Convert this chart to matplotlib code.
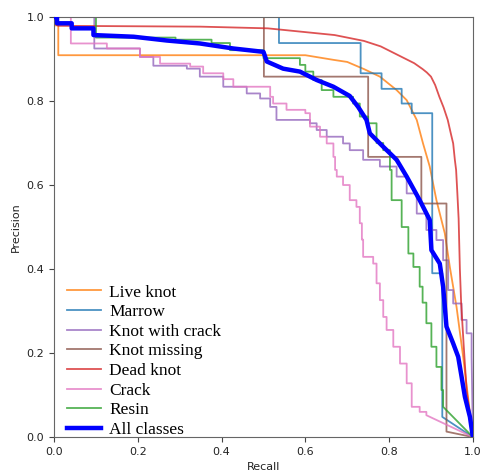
import numpy as np
import matplotlib
matplotlib.use("Agg")
import matplotlib.pyplot as plt

# ---------------- data (recall, precision) ----------------
labels = ["Live knot", "Marrow", "Knot with crack", "Knot missing",
          "Dead knot", "Crack", "Resin", "All classes"]
colors = ["#ff7f0e", "#1f77b4", "#9467bd", "#8c564b",
          "#d62728", "#e377c2", "#2ca02c", "#0000ff"]

# smooth curves (plain polyline)
live_r = [0, 0.01, 0.01, 0.60, 0.667, 0.70, 0.74, 0.778, 0.818, 0.842, 0.866,
          0.881, 0.897, 0.913, 0.933, 0.945, 0.961, 0.977, 1.0]
live_p = [0.98, 0.98, 0.909, 0.909, 0.898, 0.893, 0.876, 0.858, 0.826, 0.802,
          0.755, 0.699, 0.644, 0.564, 0.485, 0.405, 0.31, 0.19, 0.0]

dead_r = [0, 0.01, 0.35, 0.51, 0.59, 0.67, 0.74, 0.78, 0.82, 0.86, 0.88, 0.89,
          0.90, 0.91, 0.92, 0.93, 0.94, 0.948, 0.953, 0.957, 0.96, 0.963, 0.966,
          0.969, 0.972, 0.978, 0.985, 1.0]
dead_p = [0.985, 0.979, 0.977, 0.973, 0.965, 0.957, 0.943, 0.93, 0.910, 0.890,
          0.876, 0.868, 0.858, 0.838, 0.810, 0.785, 0.755, 0.72, 0.699, 0.66,
          0.636, 0.58, 0.52, 0.40, 0.32, 0.22, 0.112, 0.0]

all_r = [0, 0.007, 0.007, 0.042, 0.042, 0.094, 0.094, 0.19, 0.269, 0.348, 0.428,
         0.50, 0.508, 0.547, 0.587, 0.627, 0.667, 0.706, 0.726, 0.746, 0.754,
         0.786, 0.818, 0.842, 0.873, 0.897, 0.901, 0.921, 0.929, 0.937, 0.953,
         0.965, 0.973, 0.981, 0.993, 1.0]
all_p = [1.0, 1.0, 0.985, 0.985, 0.973, 0.973, 0.957, 0.953, 0.944, 0.937, 0.925,
         0.917, 0.894, 0.877, 0.870, 0.85, 0.834, 0.812, 0.786, 0.755, 0.723,
         0.691, 0.660, 0.620, 0.564, 0.517, 0.445, 0.413, 0.358, 0.263, 0.223,
         0.191, 0.144, 0.096, 0.048, 0.0]

# stepped curves: (recall where precision drops, new precision); last segment straight
marrow_r = [0, 0.537, 0.732, 0.782, 0.830, 0.854, 0.903, 0.927, 1.0]
marrow_p = [1.0, 0.938, 0.866, 0.829, 0.794, 0.771, 0.390, 0.048, 0.0]

missing_r = [0, 0.501, 0.750, 0.877, 0.937, 1.0]
missing_p = [1.0, 0.858, 0.667, 0.556, 0.013, 0.0]

kwc_r = [0, 0.096, 0.205, 0.237, 0.317, 0.348, 0.404, 0.46, 0.492, 0.516, 0.531,
         0.611, 0.627, 0.651, 0.690, 0.706, 0.738, 0.778, 0.818, 0.842, 0.866,
         0.889, 0.913, 0.929, 0.941, 0.953, 0.973, 0.985, 0.997, 1.0]
kwc_p = [1.0, 0.925, 0.905, 0.884, 0.877, 0.858, 0.834, 0.818, 0.806, 0.786,
         0.755, 0.747, 0.731, 0.715, 0.699, 0.683, 0.66, 0.644, 0.620, 0.580,
         0.532, 0.493, 0.469, 0.421, 0.350, 0.318, 0.279, 0.247, 0.191, 0.0]

crack_r = [0, 0.04, 0.126, 0.205, 0.253, 0.325, 0.356, 0.404, 0.428, 0.516,
           0.523, 0.555, 0.60, 0.611, 0.635, 0.651, 0.667, 0.671, 0.675, 0.69,
           0.706, 0.722, 0.730, 0.735, 0.738, 0.762, 0.770, 0.778, 0.786, 0.794,
           0.810, 0.826, 0.842, 0.854, 0.873, 0.889, 1.0]
crack_p = [1.0, 0.937, 0.925, 0.905, 0.889, 0.882, 0.866, 0.852, 0.834, 0.81,
           0.794, 0.779, 0.771, 0.739, 0.715, 0.699, 0.667, 0.636, 0.62, 0.60,
           0.564, 0.548, 0.509, 0.47, 0.429, 0.413, 0.366, 0.326, 0.286, 0.255,
           0.215, 0.175, 0.128, 0.072, 0.06, 0.052, 0.0]

resin_r = [0, 0.10, 0.29, 0.376, 0.42, 0.50, 0.587, 0.60, 0.619, 0.639, 0.667,
           0.714, 0.730, 0.750, 0.77, 0.786, 0.802, 0.806, 0.830, 0.846, 0.858,
           0.873, 0.880, 0.889, 0.901, 0.913, 0.925, 0.929, 1.0]
resin_p = [1.0, 0.951, 0.946, 0.938, 0.921, 0.902, 0.886, 0.87, 0.850, 0.826,
           0.81, 0.794, 0.763, 0.747, 0.70, 0.683, 0.636, 0.564, 0.50, 0.437,
           0.405, 0.358, 0.32, 0.271, 0.215, 0.167, 0.112, 0.072, 0.0]


def stair(r, p):
    r = np.asarray(r, float)
    p = np.asarray(p, float)
    xs, ys = [r[0]], [p[0]]
    for i in range(1, len(r) - 1):
        xs += [r[i], r[i]]
        ys += [p[i - 1], p[i]]
    xs.append(r[-1])
    ys.append(p[-1])
    return np.array(xs), np.array(ys)


curves = [
    (np.array(live_r), np.array(live_p)),
    stair(marrow_r, marrow_p),
    stair(kwc_r, kwc_p),
    stair(missing_r, missing_p),
    (np.array(dead_r), np.array(dead_p)),
    stair(crack_r, crack_p),
    stair(resin_r, resin_p),
    (np.array(all_r), np.array(all_p)),
]

fig = plt.figure(figsize=(4.83, 4.72), dpi=100)
ax = fig.add_axes([0.112, 0.074, 0.867, 0.890])

for (x, y), lab, col in zip(curves, labels, colors):
    if lab == "All classes":
        ax.plot(x, y, color=col, lw=3.2, label=lab, zorder=5)
    else:
        ax.plot(x, y, color=col, lw=1.3, alpha=0.8, label=lab)

ax.set_xlim(0, 1)
ax.set_ylim(0, 1)
ax.set_xticks([0, 0.2, 0.4, 0.6, 0.8, 1.0])
ax.set_yticks([0, 0.2, 0.4, 0.6, 0.8, 1.0])
ax.tick_params(labelsize=8, length=3.5, color="#444444", labelcolor="#222222")
for s in ax.spines.values():
    s.set_color("#666666")
ax.set_xlabel("Recall", fontsize=8, color="#222222")
ax.set_ylabel("Precision", fontsize=8, color="#222222")

leg = ax.legend(loc="lower left", bbox_to_anchor=(0.03, -0.002), frameon=False,
                prop={"family": "Liberation Serif", "size": 12.5},
                handlelength=2.0, handletextpad=0.45, labelspacing=0.2,
                borderpad=0.0, borderaxespad=0.0)

fig.savefig("out.png", dpi=100)
